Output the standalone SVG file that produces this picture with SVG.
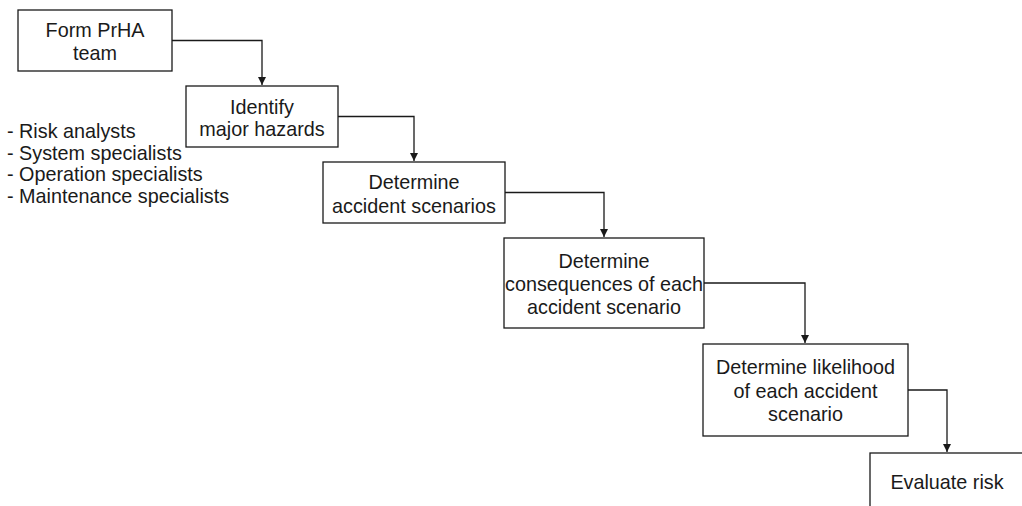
<svg xmlns="http://www.w3.org/2000/svg" width="1022" height="506" viewBox="0 0 1022 506">
  <style>
    .box { fill: #ffffff; stroke: #1a1a1a; stroke-width: 1.3; }
    .lbl { font-family: "Liberation Sans", Arial, sans-serif; font-size: 19.8px; fill: #1a1a1a; text-anchor: middle; }
    .note { font-family: "Liberation Sans", Arial, sans-serif; font-size: 19.8px; fill: #1a1a1a; }
    .wire { fill: none; stroke: #1a1a1a; stroke-width: 1.3; }
  </style>
  <defs>
    <marker id="arrow" viewBox="0 0 10 10" refX="10" refY="5" markerWidth="8" markerHeight="8" markerUnits="userSpaceOnUse" orient="auto">
      <path d="M0,0 L10,5 L0,10 Z" fill="#1a1a1a"/>
    </marker>
  </defs>
  <rect width="1022" height="506" fill="#ffffff"/>

  <!-- connectors: right edge of each step, elbow down into the next -->
  <g id="connectors">
    <path class="wire" d="M172,40.5 H262 V85" marker-end="url(#arrow)"/>
    <path class="wire" d="M338,116.5 H414 V161" marker-end="url(#arrow)"/>
    <path class="wire" d="M505,192.5 H604 V237" marker-end="url(#arrow)"/>
    <path class="wire" d="M704,283 H805 V343" marker-end="url(#arrow)"/>
    <path class="wire" d="M908,390 H947 V452" marker-end="url(#arrow)"/>
  </g>

  <g id="form-team">
    <rect class="box" x="18" y="10" width="154" height="61"/>
    <text class="lbl" x="95" y="37">Form PrHA</text>
    <text class="lbl" x="95" y="60">team</text>
  </g>

  <g id="team-members">
    <text class="note" x="7" y="138">- Risk analysts</text>
    <text class="note" x="7" y="159.5">- System specialists</text>
    <text class="note" x="7" y="181">- Operation specialists</text>
    <text class="note" x="7" y="202.5">- Maintenance specialists</text>
  </g>

  <g id="identify-hazards">
    <rect class="box" x="186" y="86" width="152" height="61"/>
    <text class="lbl" x="262" y="114">Identify</text>
    <text class="lbl" x="262" y="136">major hazards</text>
  </g>

  <g id="accident-scenarios">
    <rect class="box" x="323" y="162" width="182" height="61"/>
    <text class="lbl" x="414" y="189">Determine</text>
    <text class="lbl" x="414" y="213">accident scenarios</text>
  </g>

  <g id="consequences">
    <rect class="box" x="504" y="238" width="200" height="90"/>
    <text class="lbl" x="604" y="268">Determine</text>
    <text class="lbl" x="604" y="291">consequences of each</text>
    <text class="lbl" x="604" y="314">accident scenario</text>
  </g>

  <g id="likelihood">
    <rect class="box" x="703" y="344" width="205" height="92"/>
    <text class="lbl" x="805.5" y="374">Determine likelihood</text>
    <text class="lbl" x="805.5" y="398">of each accident</text>
    <text class="lbl" x="805.5" y="421">scenario</text>
  </g>

  <g id="evaluate-risk">
    <rect class="box" x="870" y="453" width="160" height="70"/>
    <text class="lbl" x="947" y="489">Evaluate risk</text>
  </g>
</svg>
